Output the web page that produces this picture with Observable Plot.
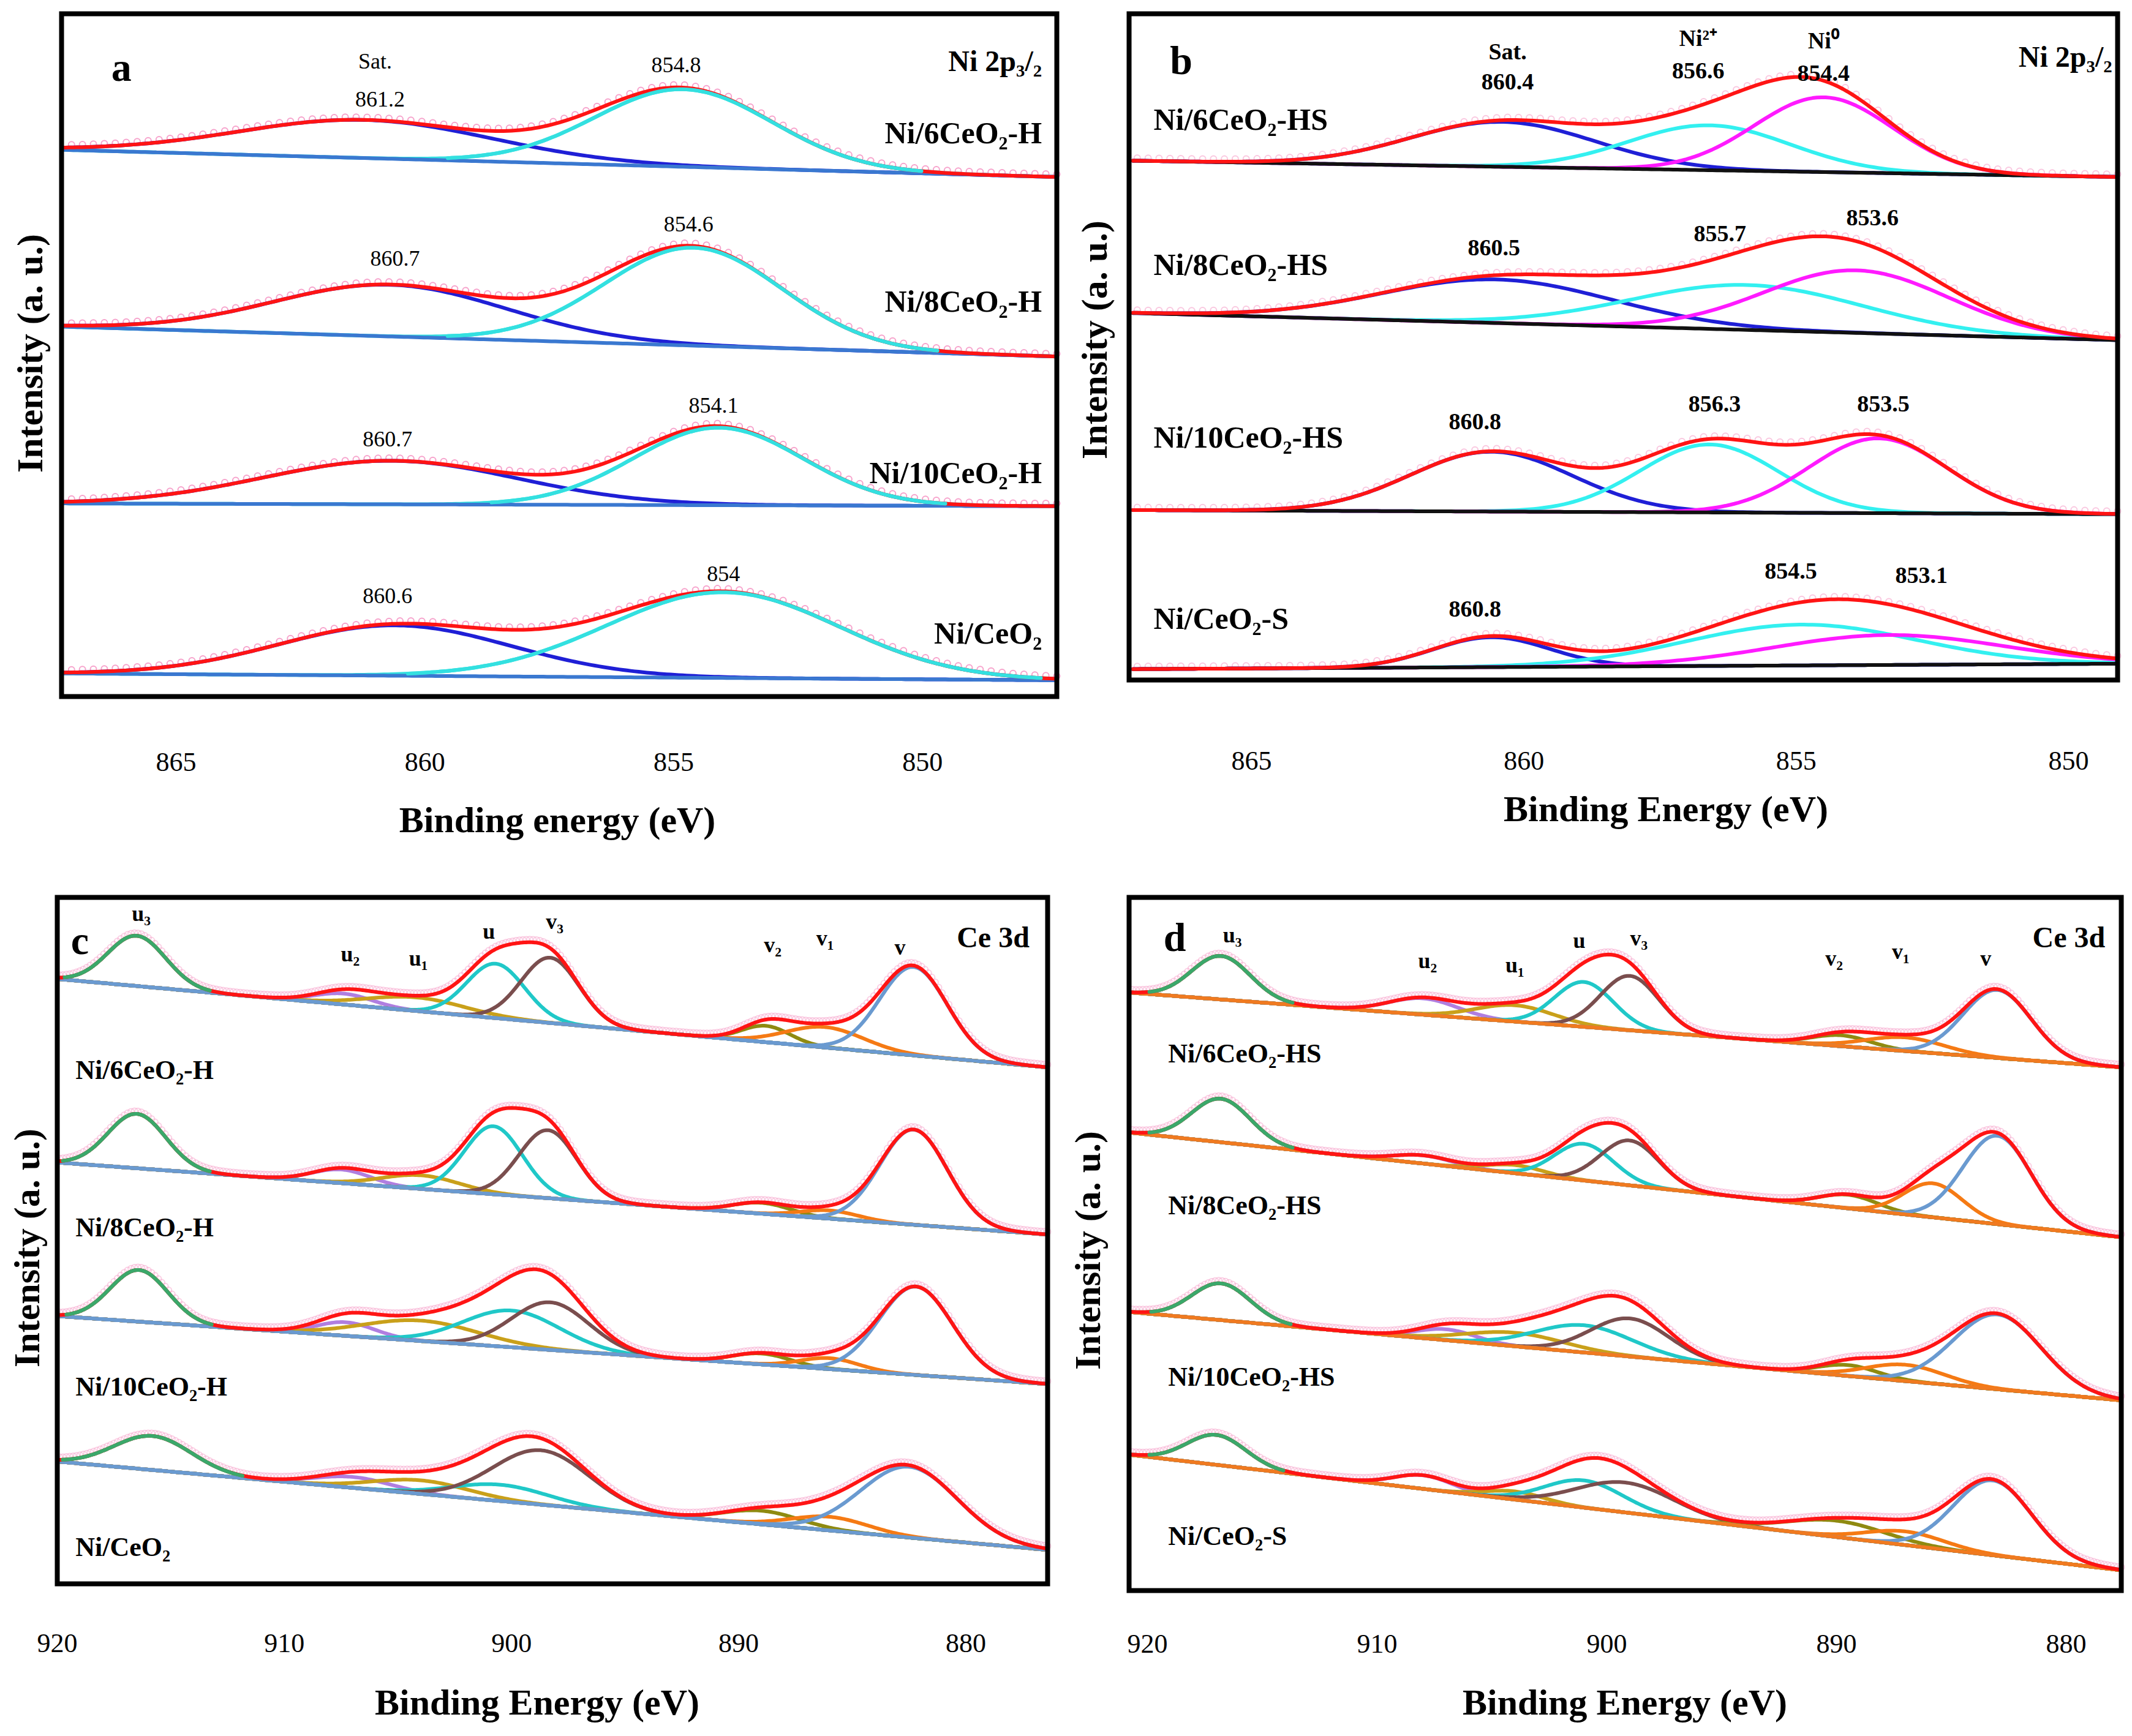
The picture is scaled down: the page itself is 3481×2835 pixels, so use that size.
<!DOCTYPE html>
<html><head><meta charset="utf-8">
<script src="https://cdn.jsdelivr.net/npm/d3@7"></script>
<script src="https://cdn.jsdelivr.net/npm/@observablehq/plot@0.6"></script>
<style>
body{margin:0;background:#fff;width:3481px;height:2835px;position:relative;font-family:"Liberation Serif",serif;}
.p{position:absolute;}
.lab{position:absolute;font-weight:bold;font-size:60px;white-space:nowrap;transform:translate(-50%,-50%);}
.ylab{transform:translate(-50%,-50%) rotate(-90deg);}
</style></head><body>
<script>
// ---------- Panel a: Ni 2p3/2 (H series) ----------
const aSamples = ["Ni/6CeO₂-H","Ni/8CeO₂-H","Ni/10CeO₂-H","Ni/CeO₂"];
const aCenters = [[861.2,854.8],[860.7,854.6],[860.7,854.1],[860.6,854.0]];
const aAmps    = [[28,57],[38,72],[32,57],[37,63]];
const aFwhm    = [[6,4.2],[5.5,4.2],[6,4],[5.5,5.5]];
const aBgLeft  = [402,272,142,17];
const aBgRight = [382,250,140,12];
const aColors  = ["#1f1fd6","#33e0e0"];
// ---------- Panel b: Ni 2p3/2 (HS series) ----------
const bSamples = ["Ni/6CeO₂-HS","Ni/8CeO₂-HS","Ni/10CeO₂-HS","Ni/CeO₂-S"];
const bCenters = [[860.4,856.6,854.5],[860.5,855.9,853.9],[860.6,856.6,853.5],[860.6,854.9,853.3]];
const bAmps    = [[33,33,55],[32,33,46],[44,50,55],[22,30,22]];
const bFwhm    = [[4,3.5,3],[5,5,4],[3.5,3,3],[2.5,5,5]];
const bBgLeft  = [382,270,125,8];
const bBgRight = [370,250,122,12];
const bColors  = ["#1f1fd6","#33f0f0","#ff1aff"];
// ---------- Panel c: Ce 3d (H series) ----------
const ceNames  = ["u₃","u₂","u₁","u","v₃","v₂","v₁","v"];
const ceColors = ["#3aa86a","#b07ee0","#c9a01a","#20c8c8","#7a4e4e","#8f8a10","#f57a14","#6a9ad0"];
const cSamples = ["Ni/6CeO₂-H","Ni/8CeO₂-H","Ni/10CeO₂-H","Ni/CeO₂"];
const cCenters = [[916.5,907.4,904.2,900.7,898.3,888.8,886.2,882.3],[916.5,907.5,904,900.8,898.4,889,886,882.3],[916.4,907.3,904,900,898.3,889,886,882.2],[915.8,907,904,900.5,898.7,889,886,882.5]];
const cAmps    = [[37,8,10,40,48,12,15,65],[40,10,10,50,50,8,6,70],[38,10,15,27,35,8,8,65],[25,8,10,12,40,10,10,52]];
const cFwhm    = [[3,3,5,3,3,2.5,4,3.5],[3,3,4,3,3,3,3,3.5],[3,3,6,5,4,3,3,3.8],[4,4,5,5,5,4,4,5]];
const cBgLeft  = [445,310,197,90];
const cBgRight = [380,257,147,25];
// ---------- Panel d: Ce 3d (HS series) ----------
const dSamples = ["Ni/6CeO₂-HS","Ni/8CeO₂-HS","Ni/10CeO₂-HS","Ni/CeO₂-S"];
const dCenters = [[916.8,908,904,901,899,889.8,887,883],[916.8,908,904,901,899,889.5,885.8,883],[916.8,907,904,901,899,889.5,887,883],[917,908,904,901,899.2,890,887,883.2]];
const dAmps    = [[32,12,12,33,40,8,10,50],[32,6,6,27,33,10,25,65],[27,8,10,20,28,8,12,55],[22,10,6,20,22,12,10,55]];
const dFwhm    = [[3,3.5,4,3,3,3,4,3.5],[3,3,3,3,3,3,3,3.5],[3,3,5,5,4,3,4,4.5],[3,3,3,4,5,5,4,4]];
const dBgLeft  = [440,337,205,100];
const dBgRight = [385,260,140,15];

const FONT = "Liberation Serif";

function gauss(x,c,a,w){return a*Math.exp(-4*Math.LN2*(x-c)*(x-c)/(w*w));}

function build(cfg){
  const [x0,x1]=cfg.domain;
  const xs=d3.range(Math.min(x0,x1),Math.max(x0,x1)+0.001,0.08);
  const comps=[], sums=[], bgs=[], pts=[];
  cfg.samples.forEach((s,i)=>{
    const bg=x=>cfg.bgL[i]+(cfg.bgR[i]-cfg.bgL[i])*(x-x0)/(x1-x0);
    xs.forEach(x=>{
      bgs.push({s:i,x,y:bg(x)});
      let tot=bg(x);
      cfg.centers[i].forEach((c,k)=>{
        const g=gauss(x,c,cfg.amps[i][k],cfg.fwhm[i][k]);
        tot+=g;
        comps.push({key:i+"-"+k,k,x,g,y:bg(x)+g});
      });
      sums.push({s:i,x,y:tot});
    });
    d3.range(Math.min(x0,x1),Math.max(x0,x1),cfg.ptStep).forEach(x=>{
      let tot=bg(x); cfg.centers[i].forEach((c,k)=>tot+=gauss(x,c,cfg.amps[i][k],cfg.fwhm[i][k]));
      pts.push({x,y:tot+2});
    });
  });
  const groups=d3.groups(cfg.texts,d=>(d.a||"middle")+"|"+(d.w||"bold")+"|"+(d.fs||38));
  const textMarks=groups.map(([key,arr])=>{const [a,w,fs]=key.split("|");
    return Plot.text(arr,{x:"x",y:"y",text:"t",textAnchor:a,fontSize:+fs,fontWeight:w,fontFamily:FONT,fill:"black"});});
  const marks=[
    Plot.dot(pts,{x:"x",y:"y",r:5,stroke:"#f7a3cc",strokeWidth:2,strokeOpacity:cfg.ptOp}),
    Plot.line(comps,{x:"x",y:"y",z:"key",stroke:d=>cfg.colors[d.k],strokeWidth:6}),
    Plot.line(bgs,{x:"x",y:"y",z:"s",stroke:cfg.bgColor,strokeWidth:6}),
    Plot.line(sums,{x:"x",y:"y",z:"s",stroke:"#ff1414",strokeWidth:6}),
    Plot.line(comps.filter(d=>d.k===cfg.topK&&d.g>cfg.topMin),{x:"x",y:"y",z:"key",stroke:cfg.colors[cfg.topK],strokeWidth:6}),
    ...textMarks,
    Plot.frame({stroke:"black",strokeWidth:8}),
    Plot.axisX({ticks:cfg.ticks,tickSize:0,tickPadding:cfg.tp,fontSize:44,label:null,tickFormat:d=>d})
  ];
  const p=Plot.plot({width:cfg.W,height:cfg.H,marginLeft:cfg.m[0],marginRight:cfg.m[1],marginTop:cfg.m[2],marginBottom:cfg.m[3],
    style:{fontFamily:FONT,fontSize:"44px",background:"white",overflow:"visible"},
    x:{domain:cfg.domain},y:{domain:cfg.ydom,axis:null},marks});
  const div=document.createElement("div");div.className="p";div.style.left=cfg.left+"px";div.style.top=cfg.top+"px";
  div.appendChild(p);document.body.appendChild(div);
}
function T(x,yref,base,t,o={}){return Object.assign({x,y:base-yref,t},o);}

// panel a
build({domain:[867.3,847.3],ydom:[0,502],W:1740,H:1400,m:[100,15,22,263],left:0,top:0,tp:90,
  samples:aSamples,centers:aCenters,amps:aAmps,fwhm:aFwhm,bgL:aBgLeft,bgR:aBgRight,colors:aColors,bgColor:"#3a78d0",topK:1,topMin:1.5,
  ticks:[865,860,855,850],ptStep:0.22,ptOp:1,
  texts:[T(866.3,50,512,"a",{a:"start",fs:66}),T(861.0,45,512,"Sat.",{w:"normal",fs:36}),
    T(847.6,45,512,"Ni 2p₃/₂",{a:"end",fs:48}),
    T(847.6,98,512,aSamples[0],{a:"end",fs:50}),T(847.6,222,512,aSamples[1],{a:"end",fs:50}),
    T(847.6,348,512,aSamples[2],{a:"end",fs:50}),T(847.6,466,512,aSamples[3],{a:"end",fs:50}),
    T(860.9,73,512,"861.2",{w:"normal",fs:36}),T(854.95,48,512,"854.8",{w:"normal",fs:36}),
    T(860.6,190,512,"860.7",{w:"normal",fs:36}),T(854.7,165,512,"854.6",{w:"normal",fs:36}),
    T(860.75,323,512,"860.7",{w:"normal",fs:36}),T(854.2,298,512,"854.1",{w:"normal",fs:36}),
    T(860.75,438,512,"860.6",{w:"normal",fs:36}),T(854.0,422,512,"854",{w:"normal",fs:36})]});
// panel b
build({domain:[867.25,849.1],ydom:[0,490],W:1741,H:1400,m:[103,24,22,290],left:1740,top:0,tp:115,
  samples:bSamples,centers:bCenters,amps:bAmps,fwhm:bFwhm,bgL:bBgLeft,bgR:bBgRight,colors:bColors,bgColor:"#111",topK:-1,topMin:0,
  ticks:[865,860,855,850],ptStep:0.2,ptOp:0.6,
  texts:[T(866.5,45,500,"b",{a:"start",fs:66}),T(849.2,42,500,"Ni 2p₃/₂",{a:"end",fs:48}),
    T(860.3,38,500,"Sat.",{fs:38}),T(860.3,60,500,"860.4",{fs:38}),
    T(856.8,28,500,"Ni²⁺",{fs:38}),T(856.8,52,500,"856.6",{fs:38}),
    T(854.5,30,500,"Ni⁰",{fs:38}),T(854.5,54,500,"854.4",{fs:38}),
    T(866.8,88,500,bSamples[0],{a:"start",fs:50}),T(866.8,195,500,bSamples[1],{a:"start",fs:50}),
    T(866.8,322,500,bSamples[2],{a:"start",fs:50}),T(866.8,455,500,bSamples[3],{a:"start",fs:50}),
    T(860.55,182,500,"860.5",{fs:38}),T(856.4,172,500,"855.7",{fs:38}),T(853.6,160,500,"853.6",{fs:38}),
    T(860.9,310,500,"860.8",{fs:38}),T(856.5,297,500,"856.3",{fs:38}),T(853.4,297,500,"853.5",{fs:38}),
    T(860.9,448,500,"860.8",{fs:38}),T(855.1,420,500,"854.5",{fs:38}),T(852.7,423,500,"853.1",{fs:38})]});
// panel c
const cX=[916.3,907.1,904.1,901.0,898.1,888.5,886.2,882.9], cY=[672,702,705,685,678,695,690,697];
const dX=[916.3,907.8,904.0,901.2,898.6,890.1,887.2,883.5], dY=[688,707,710,692,690,705,700,705];
build({domain:[920,876.4],ydom:[0,505],W:1740,H:1435,m:[93,30,65,249],left:0,top:1400,tp:80,
  samples:cSamples,centers:cCenters,amps:cAmps,fwhm:cFwhm,bgL:cBgLeft,bgR:cBgRight,colors:ceColors,bgColor:"#6a9ad0",topK:0,topMin:1.5,
  ticks:[920,910,900,890,880],ptStep:0.15,ptOp:0.5,
  texts:[T(919.4,692,1165,"c",{a:"start",fs:66}),T(877.2,690,1165,"Ce 3d",{a:"end",fs:48}),
    ...ceNames.map((n,i)=>T(cX[i],cY[i],1165,n,{fs:36})),
    T(919.2,787,1165,cSamples[0],{a:"start",fs:44}),T(919.2,903,1165,cSamples[1],{a:"start",fs:44}),
    T(919.2,1020,1165,cSamples[2],{a:"start",fs:44}),T(919.2,1138,1165,cSamples[3],{a:"start",fs:44})]});
// panel d
build({domain:[920.8,877.6],ydom:[0,510],W:1741,H:1435,m:[103,18,65,238],left:1740,top:1400,tp:70,
  samples:dSamples,centers:dCenters,amps:dAmps,fwhm:dFwhm,bgL:dBgLeft,bgR:dBgRight,colors:ceColors,bgColor:"#f07a20",topK:0,topMin:1.5,
  ticks:[920,910,900,890,880],ptStep:0.15,ptOp:0.5,
  texts:[T(919.3,690,1170,"d",{a:"start",fs:66}),T(878.3,690,1170,"Ce 3d",{a:"end",fs:48}),
    ...ceNames.map((n,i)=>T(dX[i],dY[i],1170,n,{fs:36})),
    T(919.1,775,1170,dSamples[0],{a:"start",fs:44}),T(919.1,887,1170,dSamples[1],{a:"start",fs:44}),
    T(919.1,1013,1170,dSamples[2],{a:"start",fs:44}),T(919.1,1130,1170,dSamples[3],{a:"start",fs:44})]});

// axis titles
const labs=[["Binding energy (eV)",910,1339,""],["Binding Energy (eV)",2720,1321,""],["Binding Energy (eV)",877,2780,""],["Binding Energy (eV)",2653,2780,""],
  ["Intensity (a. u.)",49,577,"ylab"],["Intensity (a. u.)",1787,555,"ylab"],["Intensity (a. u.)",44,2038,"ylab"],["Intensity (a. u.)",1776,2042,"ylab"]];
labs.forEach(([t,x,y,c])=>{const d=document.createElement("div");d.className="lab "+c;d.textContent=t;d.style.left=x+"px";d.style.top=y+"px";document.body.appendChild(d);});
</script>
</body></html>
